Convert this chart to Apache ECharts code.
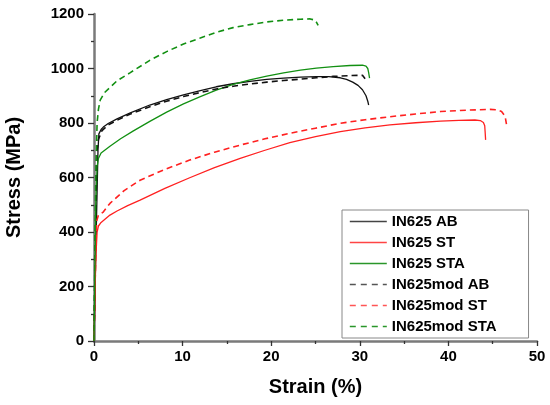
<!DOCTYPE html>
<html>
<head>
<meta charset="utf-8">
<script src="https://cdn.jsdelivr.net/npm/echarts@6/dist/echarts.min.js"></script>
<style>html,body{margin:0;padding:0;background:#fff}#c{width:550px;height:405px}</style>
</head>
<body>
<div id="c"></div>
<script>
// Data: [strain (%), stress (MPa)]
var seriesNames = ['IN625 AB', 'IN625 ST', 'IN625 STA', 'IN625mod AB', 'IN625mod ST', 'IN625mod STA'];
var xTicks = [0, 10, 20, 30, 40, 50];
var yTicks = [0, 200, 400, 600, 800, 1000, 1200];

var in625AB = [[0,0],[0.25,400],[0.45,700],[0.55,760],[0.8,776],[1.05,785],[1.6,798],[2.6,815],[4.1,837],[6.3,866],[8.2,886],[10.1,903],[12,919],[13.8,933],[15.7,944],[17.6,953],[19.5,960],[21.4,965],[23.3,968],[25.1,970],[26.5,970],[27.8,966],[28.5,960],[29.2,950],[29.8,938],[30.3,922],[30.7,900],[30.9,880],[31.0,866]];
var in625ST = [[0,0],[0.2,300],[0.35,400],[0.5,422],[0.8,435],[1.8,462],[2.6,477],[3.8,497],[5.2,517],[8,560],[10.8,599],[13.6,636],[16.5,670],[19.3,700],[22.1,728],[25,750],[27.8,768],[30.6,782],[33.4,793],[36.3,801],[39.1,807],[41.2,810],[43.0,811],[43.6,809],[43.95,802],[44.1,790],[44.15,765],[44.2,738]];
var in625STA = [[0,0],[0.2,500],[0.35,640],[0.5,670],[0.8,690],[1.8,715],[3,742],[4.4,770],[6.3,806],[8.2,840],[10.1,870],[12,897],[13.8,921],[15.7,942],[17.6,958],[19.5,972],[21.4,984],[23.3,994],[25.1,1001],[27,1007],[28.9,1011],[30.3,1012],[30.7,1009],[30.9,1000],[31.0,985],[31.1,965]];
var modAB = [[0,0],[0.2,450],[0.3,690],[0.5,740],[0.9,772],[1.6,793],[2.6,810],[4.1,833],[6.3,860],[8.2,880],[10.1,897],[12,912],[13.8,925],[15.7,935],[17.6,943],[19.5,950],[21.4,956],[23.3,961],[25.1,966],[27,971],[28.9,974],[30.3,975],[30.6,962]];
var modST = [[0,0],[0.2,330],[0.3,440],[0.5,462],[1.0,472],[1.8,505],[3.4,552],[5.2,590],[8,630],[10.8,664],[13.6,693],[16.5,719],[19.3,742],[22.1,762],[25,781],[27.8,799],[30.6,812],[33.4,823],[36.3,833],[39.1,842],[42,847],[44.7,850],[45.5,848],[46.0,842],[46.4,825],[46.6,786]];
var modSTA = [[0,0],[0.2,600],[0.35,800],[0.5,850],[0.7,884],[1.2,912],[2.6,955],[4.1,985],[6.3,1030],[8.2,1062],[10.1,1090],[12,1112],[13.8,1133],[15.7,1150],[17.6,1161],[19.5,1171],[21.4,1177],[23.3,1181],[24.4,1182],[24.9,1178],[25.1,1170],[25.3,1158]];

var seriesData = [in625AB, in625ST, in625STA, modAB, modST, modSTA];
var colors = ['#111111', '#ff2020', '#129012', '#111111', '#ff2020', '#129012'];
var legendColors = ['#444444', '#ff4444', '#2a962a', '#555555', '#ff5555', '#2a962a'];
var dashed = [false, false, false, true, true, true];

var font = 'Liberation Sans, Arial, sans-serif';
var chart = echarts.init(document.getElementById('c'), null, {renderer: 'canvas'});

var series = seriesNames.map(function (n, i) {
  return {
    name: n,
    type: 'line',
    data: seriesData[i],
    showSymbol: false,
    symbol: 'none',
    smooth: false,
    animation: false,
    lineStyle: {color: colors[i], width: dashed[i] ? 1.6 : 1.3, type: dashed[i] ? [6, 4] : 'solid'},
    itemStyle: {color: colors[i]}
  };
});

var legendData = seriesNames.map(function (n, i) {
  return {
    name: n,
    itemStyle: {opacity: 0},
    lineStyle: {color: legendColors[i], width: 1.6, type: dashed[i] ? [6, 5] : 'solid'}
  };
});

chart.setOption({
  animation: false,
  backgroundColor: '#fff',
  grid: {left: 94, right: 13, top: 14, bottom: 64, containLabel: false, outerBoundsMode: 'none'},
  legend: {
    orient: 'vertical',
    left: 342, top: 210,
    data: legendData,
    itemWidth: 37, itemHeight: 14, itemGap: 6,
    padding: [4, 32, 4, 7],
    borderColor: '#888', borderWidth: 1,
    itemStyle: {opacity: 0},
    textStyle: {fontFamily: font, fontWeight: 'bold', fontSize: 15, color: '#000'}
  },
  xAxis: {
    type: 'value', min: 0, max: 50, interval: 10,
    name: 'Strain (%)', nameLocation: 'middle', nameGap: 36,
    nameTextStyle: {fontFamily: font, fontWeight: 'bold', fontSize: 20, color: '#000'},
    axisLine: {show: true, lineStyle: {color: '#7a7a7a', width: 2.5}},
    axisTick: {show: true, length: 5, lineStyle: {color: '#333', width: 1.3}},
    minorTick: {show: true, splitNumber: 2, length: 3, lineStyle: {color: '#333', width: 1.3}},
    splitLine: {show: false},
    axisLabel: {fontFamily: font, fontWeight: 'bold', fontSize: 15, color: '#000', margin: 8,
      formatter: function (v) { return xTicks.indexOf(v) >= 0 ? String(v) : ''; }}
  },
  yAxis: {
    type: 'value', min: 0, max: 1200, interval: 200,
    name: 'Stress (MPa)', nameLocation: 'middle', nameGap: 70, nameRotate: 90,
    nameTextStyle: {fontFamily: font, fontWeight: 'bold', fontSize: 20, color: '#000'},
    axisLine: {show: true, lineStyle: {color: '#7a7a7a', width: 2.5}},
    axisTick: {show: true, length: 6, lineStyle: {color: '#333', width: 1.3}},
    minorTick: {show: true, splitNumber: 2, length: 3, lineStyle: {color: '#333', width: 1.3}},
    splitLine: {show: false},
    axisLabel: {fontFamily: font, fontWeight: 'bold', fontSize: 15, color: '#000', margin: 10,
      formatter: function (v) { return yTicks.indexOf(v) >= 0 ? String(v) : ''; }}
  },
  series: series
});
</script>
</body>
</html>
